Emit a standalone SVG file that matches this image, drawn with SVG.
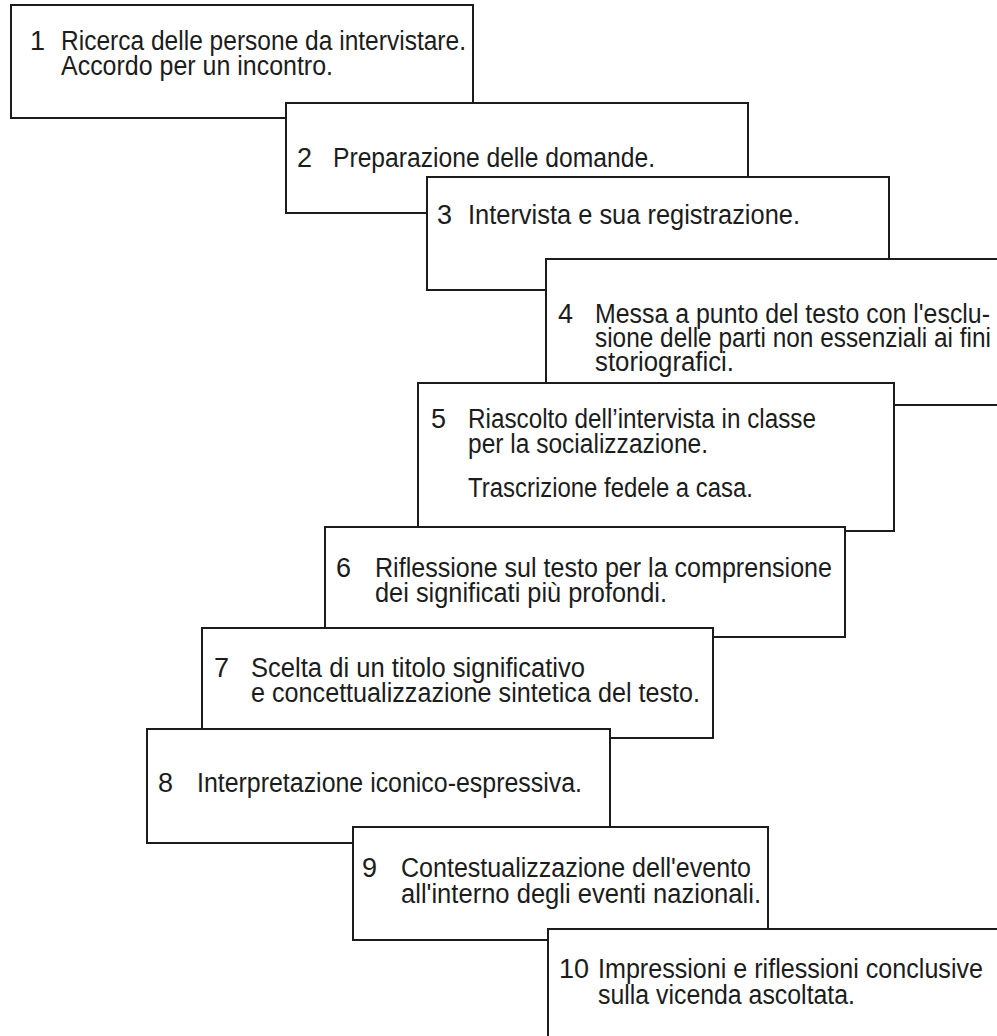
<svg xmlns="http://www.w3.org/2000/svg" width="997" height="1036" viewBox="0 0 997 1036">
<style>
.box{fill:#ffffff;stroke:#1c1c1c;stroke-width:2}
.t{font-family:"Liberation Sans","Noto Sans",sans-serif;font-size:27px;fill:#1c1c1c}
</style>
<rect x="0" y="0" width="997" height="1036" fill="#ffffff"/>
<g id="connectors"/>
<g id="node1">
<rect class="box" x="11" y="5" width="462" height="113"/>
<text class="t" x="30" y="50">1</text>
<text class="t" x="61" y="50" textLength="405" lengthAdjust="spacingAndGlyphs">Ricerca delle persone da intervistare.</text>
<text class="t" x="61" y="75" textLength="272" lengthAdjust="spacingAndGlyphs">Accordo per un incontro.</text>
</g>
<g id="node2">
<rect class="box" x="286" y="103" width="462" height="110"/>
<text class="t" x="297" y="167">2</text>
<text class="t" x="333" y="167" textLength="322" lengthAdjust="spacingAndGlyphs">Preparazione delle domande.</text>
</g>
<g id="node3">
<rect class="box" x="427" y="177" width="462" height="113"/>
<text class="t" x="437" y="224">3</text>
<text class="t" x="468" y="224" textLength="332" lengthAdjust="spacingAndGlyphs">Intervista e sua registrazione.</text>
</g>
<g id="node4">
<rect class="box" x="546" y="259" width="470" height="146"/>
<text class="t" x="558" y="323">4</text>
<text class="t" x="595" y="323" textLength="395" lengthAdjust="spacingAndGlyphs">Messa a punto del testo con l'esclu-</text>
<text class="t" x="595" y="347" textLength="396" lengthAdjust="spacingAndGlyphs">sione delle parti non essenziali ai fini</text>
<text class="t" x="595" y="371" textLength="139" lengthAdjust="spacingAndGlyphs">storiografici.</text>
</g>
<g id="node5">
<rect class="box" x="418" y="383" width="476" height="148"/>
<text class="t" x="431" y="428">5</text>
<text class="t" x="468" y="428" textLength="348" lengthAdjust="spacingAndGlyphs">Riascolto dell’intervista in classe</text>
<text class="t" x="468" y="453" textLength="240" lengthAdjust="spacingAndGlyphs">per la socializzazione.</text>
<text class="t" x="468" y="497" textLength="285" lengthAdjust="spacingAndGlyphs">Trascrizione fedele a casa.</text>
</g>
<g id="node6">
<rect class="box" x="325" y="527" width="520" height="110"/>
<text class="t" x="336" y="577">6</text>
<text class="t" x="375" y="577" textLength="457" lengthAdjust="spacingAndGlyphs">Riflessione sul testo per la comprensione</text>
<text class="t" x="375" y="602" textLength="292" lengthAdjust="spacingAndGlyphs">dei significati più profondi.</text>
</g>
<g id="node7">
<rect class="box" x="202" y="628" width="511" height="110"/>
<text class="t" x="214" y="677">7</text>
<text class="t" x="251" y="677" textLength="334" lengthAdjust="spacingAndGlyphs">Scelta di un titolo significativo</text>
<text class="t" x="251" y="702" textLength="449" lengthAdjust="spacingAndGlyphs">e concettualizzazione sintetica del testo.</text>
</g>
<g id="node8">
<rect class="box" x="147" y="729" width="463" height="114"/>
<text class="t" x="158" y="792">8</text>
<text class="t" x="197" y="792" textLength="385" lengthAdjust="spacingAndGlyphs">Interpretazione iconico-espressiva.</text>
</g>
<g id="node9">
<rect class="box" x="353" y="827" width="415" height="113"/>
<text class="t" x="362" y="877">9</text>
<text class="t" x="401" y="877" textLength="350" lengthAdjust="spacingAndGlyphs">Contestualizzazione dell'evento</text>
<text class="t" x="401" y="903" textLength="360" lengthAdjust="spacingAndGlyphs">all'interno degli eventi nazionali.</text>
</g>
<g id="node10">
<rect class="box" x="548" y="929" width="470" height="130"/>
<text class="t" x="559" y="978">10</text>
<text class="t" x="598" y="978" textLength="385" lengthAdjust="spacingAndGlyphs">Impressioni e riflessioni conclusive</text>
<text class="t" x="598" y="1004" textLength="257" lengthAdjust="spacingAndGlyphs">sulla vicenda ascoltata.</text>
</g>
</svg>
